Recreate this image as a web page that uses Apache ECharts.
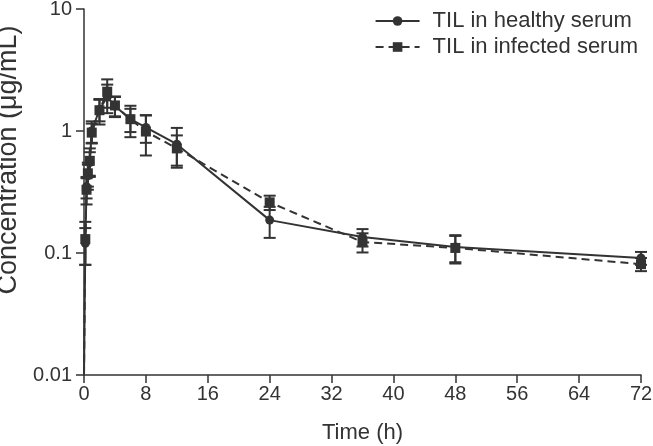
<!DOCTYPE html>
<html>
<head>
<meta charset="utf-8">
<script src="https://cdn.jsdelivr.net/npm/echarts@6/dist/echarts.min.js"></script>
<style>html,body{margin:0;padding:0;background:#fff}#c{width:653px;height:446px}</style>
</head>
<body>
<div id="c"></div>
<script>
var times = [0, 0.17, 0.33, 0.5, 0.75, 1, 2, 3, 4, 6, 8, 12, 24, 36, 48, 72];
var healthyMean = [0.01, 0.12, 0.35, 0.43, 0.55, 1.0, 1.5, 1.9, 1.6, 1.25, 1.07, 0.78, 0.186, 0.135, 0.112, 0.091];
var healthySD   = [0, 0.04, 0.07, 0.1, 0.12, 0.2, 0.3, 0.5, 0.3, 0.36, 0.27, 0.28, 0.053, 0.022, 0.028, 0.011];
var infectedMean = [0.01, 0.13, 0.33, 0.45, 0.57, 0.97, 1.48, 2.1, 1.62, 1.25, 0.99, 0.72, 0.26, 0.123, 0.11, 0.081];
var infectedSD   = [0, 0.05, 0.08, 0.1, 0.15, 0.18, 0.35, 0.55, 0.3, 0.27, 0.36, 0.2, 0.035, 0.022, 0.028, 0.01];
var xTicks = [0, 8, 16, 24, 32, 40, 48, 56, 64, 72];
var yTicks = ['0.01', '0.1', '1', '10'];
var seriesNames = ['TIL in healthy serum', 'TIL in infected serum'];

var FONT = '"Liberation Sans",Arial,sans-serif';
var INK = '#333333';

function pairs(means) {
  return times.map(function (t, i) {
    var item = { value: [t, means[i]] };
    if (t === 0) item.symbolSize = 0;
    return item;
  });
}
function errs(means, sds) {
  var out = [];
  times.forEach(function (t, i) { if (sds[i] > 0) out.push([t, Math.max(means[i] - sds[i], 0.011), means[i] + sds[i]]); });
  return out;
}
function errRender(params, api) {
  var x = api.value(0), lo = api.value(1), hi = api.value(2);
  var a = api.coord([x, hi]), b = api.coord([x, lo]);
  var w = 6;
  var st = { stroke: INK, lineWidth: 2 };
  return { type: 'group', children: [
    { type: 'line', shape: { x1: a[0], y1: a[1], x2: b[0], y2: b[1] }, style: st },
    { type: 'line', shape: { x1: a[0] - w, y1: a[1], x2: a[0] + w, y2: a[1] }, style: st },
    { type: 'line', shape: { x1: b[0] - w, y1: b[1], x2: b[0] + w, y2: b[1] }, style: st }
  ]};
}

var chart = echarts.init(document.getElementById('c'), null, { renderer: 'canvas' });
chart.setOption({
  animation: false,
  backgroundColor: '#fff',
  textStyle: { fontFamily: FONT, color: INK },
  grid: { left: 84, right: 12, top: 9, bottom: 71, outerBoundsMode: 'none', containLabel: false },
  legend: {
    orient: 'vertical', right: 10, top: 5, itemWidth: 44, itemHeight: 12, itemGap: 4,
    data: seriesNames,
    textStyle: { fontFamily: FONT, fontSize: 22, color: INK, padding: [0, 0, 0, 8], lineHeight: 22 }
  },
  xAxis: {
    type: 'value', min: 0, max: 72, interval: 8,
    name: 'Time (h)', nameLocation: 'middle', nameGap: 47,
    nameTextStyle: { fontFamily: FONT, fontSize: 22, color: INK },
    axisLine: { lineStyle: { color: INK, width: 1.5 } },
    axisTick: { inside: false, length: 8, lineStyle: { color: INK, width: 1.5 } },
    axisLabel: { fontFamily: FONT, fontSize: 20, color: INK, margin: 9,
      formatter: function (v) { return xTicks.indexOf(v) >= 0 ? String(v) : ''; } },
    splitLine: { show: false }
  },
  yAxis: {
    type: 'log', logBase: 10, min: 0.01, max: 10,
    name: 'Concentration (μg/mL)', nameLocation: 'middle', nameGap: 47, nameRotate: 90,
    nameTextStyle: { fontFamily: FONT, fontSize: 27, color: INK, padding: [0, 0, 0, 64] },
    axisLine: { show: true, lineStyle: { color: INK, width: 1.5 } },
    axisTick: { show: true, length: 8, lineStyle: { color: INK, width: 1.5 } },
    axisLabel: { fontFamily: FONT, fontSize: 20, color: INK, margin: 12,
      formatter: function (v) {
        for (var i = 0; i < yTicks.length; i++) { if (Math.abs(parseFloat(yTicks[i]) - v) < 1e-9 * (1 + v)) return yTicks[i]; }
        return '';
      } },
    splitLine: { show: false }
  },
  series: [
    { name: seriesNames[0], type: 'line', data: pairs(healthyMean), symbol: 'circle', symbolSize: 9,
      itemStyle: { color: INK }, lineStyle: { color: INK, width: 2, type: 'solid' }, z: 3 },
    { name: seriesNames[1], type: 'line', data: pairs(infectedMean), symbol: 'rect', symbolSize: 10,
      itemStyle: { color: INK }, lineStyle: { color: INK, width: 2, type: [8, 5] }, z: 4 },
    { type: 'custom', renderItem: errRender, data: errs(healthyMean, healthySD), z: 2, silent: true },
    { type: 'custom', renderItem: errRender, data: errs(infectedMean, infectedSD), z: 2, silent: true }
  ]
});
</script>
</body>
</html>
